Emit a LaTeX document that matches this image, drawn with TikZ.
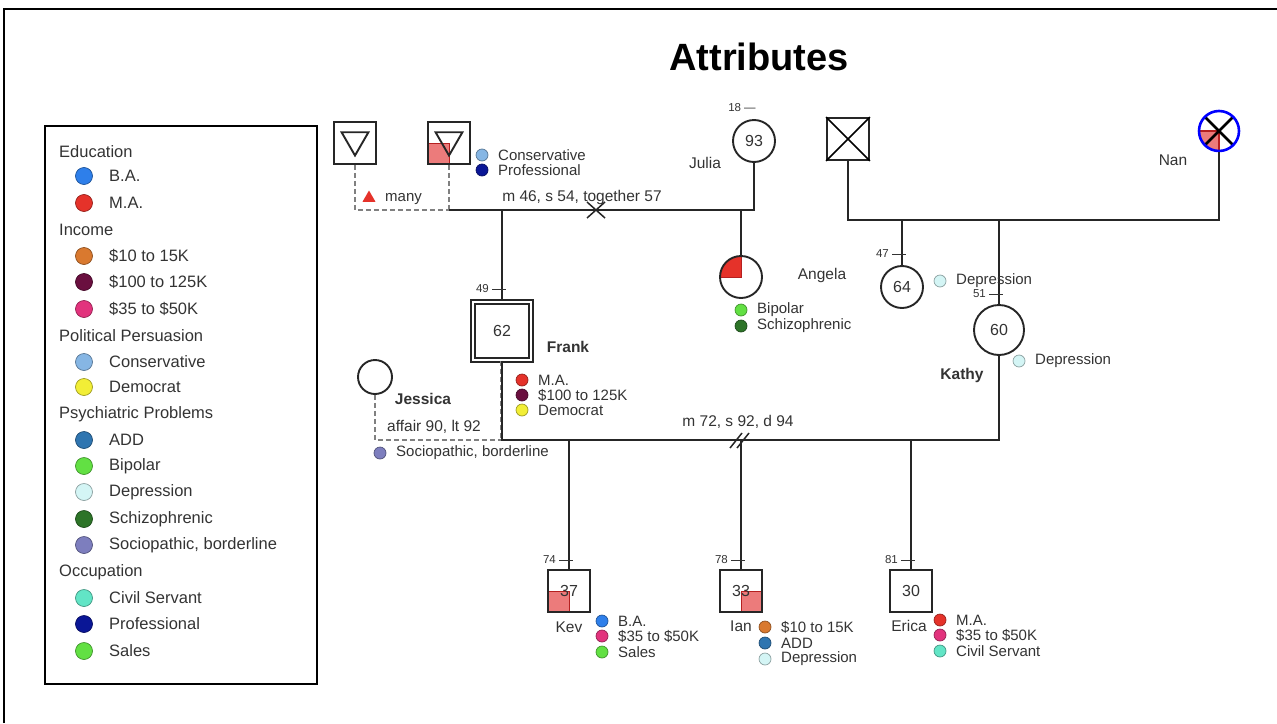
\documentclass[tikz,border=0pt]{standalone}
\usepackage{fontspec}
\setmainfont{Liberation Sans}
\definecolor{InkGray}{HTML}{333333}
\definecolor{EduBA}{HTML}{2E7FEA}
\definecolor{EduMA}{HTML}{E5322A}
\definecolor{IncLow}{HTML}{D9792F}
\definecolor{IncHigh}{HTML}{6A0F3F}
\definecolor{IncMid}{HTML}{E2337D}
\definecolor{PolCons}{HTML}{86B6E4}
\definecolor{PolDem}{HTML}{F2EE36}
\definecolor{PsyADD}{HTML}{2F75B0}
\definecolor{PsyBipolar}{HTML}{62E043}
\definecolor{PsyDepr}{HTML}{D4F5F5}
\definecolor{PsySchizo}{HTML}{2D7428}
\definecolor{PsySocio}{HTML}{7D7EBE}
\definecolor{OccCivil}{HTML}{62E5C6}
\definecolor{OccProf}{HTML}{0A1696}
\definecolor{OccSales}{HTML}{62E043}
\definecolor{QuadPink}{HTML}{EC7B7B}
\definecolor{QuadRed}{HTML}{B52020}
\usepackage{tikz}
\usetikzlibrary{positioning, shapes.geometric, calc}
\usepackage{xcolor}

\begin{document}
\begin{tikzpicture}[x=1pt, y=-1pt,
    rel/.style={draw=black!85, line width=2pt},
    dashrel/.style={draw=black!50, line width=1.8pt, dash pattern=on 5pt off 3pt},
    malebox/.style={draw=black!85, line width=1.9pt, minimum size=42pt, inner sep=0pt,
                    font=\fontsize{16}{16}\selectfont, text=InkGray},
    femcirc/.style={malebox, circle},
    lbl/.style={font=\fontsize{15}{15}\selectfont, text=InkGray, inner sep=0pt, anchor=west},
    namelbl/.style={font=\fontsize{15.5}{15.5}\selectfont, text=InkGray, inner sep=0pt},
    boldname/.style={namelbl, font=\bfseries\fontsize{15.5}{15.5}\selectfont},
    legtxt/.style={font=\fontsize{16.5}{16.5}\selectfont, text=InkGray, inner sep=0pt, anchor=west},
    agelbl/.style={font=\fontsize{11.5}{11.5}\selectfont, text=InkGray, inner sep=0pt, anchor=east},
    agetick/.style={draw=InkGray, line width=0.7pt},
    attr/.style={circle, draw=#1!65!black, fill=#1, line width=0.7pt, minimum size=12pt, inner sep=0pt},
    legdot/.style={attr=#1, minimum size=17pt},
    downtri/.style={regular polygon, regular polygon sides=3, shape border rotate=180,
                    draw=black!85, line width=1.9pt, minimum size=31pt, inner sep=0pt},
  ]
  \useasboundingbox (0,0) rectangle (1277,723);
  \draw[line width=2pt] (4,723) -- (4,9) -- (1277,9);

  \node[font=\bfseries\fontsize{38}{38}\selectfont] (title) at (759,57) {Attributes};

  % legend
  \draw[line width=1.5pt] (45,126) rectangle (317,684);
  \foreach \yy/\head in {152/Education, 230/Income, 336/Political Persuasion,
                         414/Psychiatric Problems, 572/Occupation}
    \node[legtxt] (head\yy) at (59,\yy) {\head};
  \foreach \yy/\col/\lab in {176/EduBA/B.A., 203/EduMA/M.A., 256/IncLow/\$10 to 15K,
      282/IncHigh/\$100 to 125K, 309/IncMid/\$35 to \$50K, 362/PolCons/Conservative,
      387/PolDem/Democrat, 440/PsyADD/ADD, 466/PsyBipolar/Bipolar, 492/PsyDepr/Depression,
      519/PsySchizo/Schizophrenic, 545/PsySocio/{Sociopathic, borderline},
      598/OccCivil/Civil Servant, 624/OccProf/Professional, 651/OccSales/Sales} {
    \node[legdot=\col] (legdot\yy) at (84,\yy) {};
    \node[legtxt] (legtxt\yy) at (109,\yy) {\lab};
  }

  % grandparents
  \node[malebox] (unk1) at (355,143) {};
  \node[downtri] (unk1tri) at (355,140) {};
  \node[malebox, path picture={
      \fill[QuadPink] (path picture bounding box.south west) rectangle (path picture bounding box.center);
      \draw[QuadRed, line width=0.8pt] (path picture bounding box.west) -- (path picture bounding box.center)
        -- (path picture bounding box.south);}] (unk2) at (449,143) {};
  \node[downtri] (unk2tri) at (449,140) {};
  \node[femcirc] (julia) at (754,141) {93};
  \node[namelbl] (juliaage) at (742,108) {\fontsize{11.5}{11.5}\selectfont 18 ---};
  \node[namelbl] (julianame) at (705,163) {Julia};

  \node[malebox] (xsq) at (848,139) {};
  \draw[line width=1.5pt] (xsq.north west) -- (xsq.south east) (xsq.north east) -- (xsq.south west);
  \node[circle, draw=blue, line width=2.6pt, minimum size=40pt, inner sep=0pt, path picture={
      \fill[QuadPink] (path picture bounding box.south west) rectangle (path picture bounding box.center);
      \draw[QuadRed, line width=1.4pt] (path picture bounding box.west) -- (path picture bounding box.center)
        -- (path picture bounding box.south);
      \draw[black, line width=2.6pt] (path picture bounding box.north west) -- (path picture bounding box.south east)
        (path picture bounding box.north east) -- (path picture bounding box.south west);}] (nan) at (1219,131) {};
  \node[namelbl] (nanname) at (1173,160) {Nan};

  % parents
  \node[malebox, double, double distance=2.5pt, line width=1.5pt, minimum size=58pt] (frank) at (502,331) {62};
  \node[boldname] (frankname) at (568,347) {Frank};
  \node[femcirc, path picture={
      \fill[EduMA] (path picture bounding box.north west) rectangle (path picture bounding box.center);
      \draw[QuadRed, line width=0.8pt] (path picture bounding box.west) -- (path picture bounding box.center)
        -- (path picture bounding box.north);}] (angela) at (741,277) {};
  \node[namelbl] (angelaname) at (822,275) {Angela};
  \node[femcirc, minimum size=34pt] (jessica) at (375,377) {};
  \node[boldname] (jessicaname) at (423,399) {Jessica};
  \node[femcirc] (aunt) at (902,287) {64};
  \node[femcirc, minimum size=50pt] (kathy) at (999,330) {60};
  \node[boldname] (kathyname) at (962,375) {Kathy};

  % children
  \node[malebox, path picture={
      \fill[QuadPink] (path picture bounding box.south west) rectangle (path picture bounding box.center);
      \draw[QuadRed, line width=0.8pt] (path picture bounding box.west) -- (path picture bounding box.center)
        -- (path picture bounding box.south);}] (kev) at (569,591) {37};
  \node[malebox, path picture={
      \fill[QuadPink] (path picture bounding box.south east) rectangle (path picture bounding box.center);
      \draw[QuadRed, line width=0.8pt] (path picture bounding box.east) -- (path picture bounding box.center)
        -- (path picture bounding box.south);}] (ian) at (741,591) {33};
  \node[malebox] (erica) at (911,591) {30};
  \node[namelbl] (kevname) at (569,627) {Kev};
  \node[namelbl] (ianname) at (741,626) {Ian};
  \node[namelbl] (ericaname) at (909,626) {Erica};

  % relationships
  \coordinate (m46a) at (449,210);
  \coordinate (m46sep) at (596,210);
  \draw[dashrel] (unk1.south) |- (m46a);
  \draw[dashrel] (unk2.south) -- (m46a);
  \draw[rel] (m46a) -| (julia.south);
  \draw[rel] (502,210) -- (frank.north);
  \draw[rel] (741,210) -- (angela.north);
  \draw[rel, line width=1.5pt] ($(m46sep)+(-9,-8)$) -- ($(m46sep)+(9,8)$)
    ($(m46sep)+(9,-8)$) -- ($(m46sep)+(-9,8)$);
  \node[regular polygon, regular polygon sides=3, fill=EduMA, minimum size=15pt, inner sep=0pt] (manytri) at (369,198) {};
  \node[lbl] (manytxt) at (385,199) {many};
  \node[namelbl] (m46lbl) at (582,197) {m 46, s 54, together 57};

  \coordinate (m51r) at (1219,220);
  \draw[rel] (xsq.south) |- (m51r) -- (nan.south);
  \draw[rel] (902,220) -- (aunt.north);
  \draw[rel] (999,220) -- (kathy.north);

  \coordinate (m72a) at (502,440);
  \coordinate (m72sep) at (741,440);
  \draw[dashrel] (jessica.south) |- (m72a);
  \draw[dashrel] ([xshift=-1.5pt]frank.south) -- ([xshift=-1.5pt]m72a);
  \draw[rel] (frank.south) -- (m72a) -| (kathy.south);
  \foreach \kid/\kx in {kev/569, ian/741, erica/911}
    \draw[rel] (\kx,440) -- (\kid.north);
  \draw[rel, line width=1.5pt] ($(m72sep)+(-11,8)$) -- ($(m72sep)+(1,-7)$)
    ($(m72sep)+(-4,8)$) -- ($(m72sep)+(8,-7)$);
  \node[namelbl] (affairlbl) at (434,427) {affair 90, lt 92};
  \node[namelbl] (m72lbl) at (738,422) {m 72, s 92, d 94};

  % birth years
  \foreach \ax/\ay/\yr in {502/289/49, 902/254/47, 999/294/51, 569/560/74, 741/560/78, 911/560/81} {
    \node[agelbl] (age\yr) at (\ax-13,\ay) {\yr};
    \draw[agetick] (\ax-10,\ay) -- (\ax+4,\ay);
  }

  % attributes
  \foreach \dx/\dy/\col/\lab [count=\i] in {
      482/155/PolCons/Conservative, 482/170/OccProf/Professional,
      741/310/PsyBipolar/Bipolar, 741/326/PsySchizo/Schizophrenic,
      522/380/EduMA/M.A., 522/395/IncHigh/\$100 to 125K, 522/410/PolDem/Democrat,
      380/453/PsySocio/{Sociopathic, borderline},
      940/281/PsyDepr/Depression, 1019/361/PsyDepr/Depression,
      602/621/EduBA/B.A., 602/636/IncMid/\$35 to \$50K, 602/652/OccSales/Sales,
      765/627/IncLow/\$10 to 15K, 765/643/PsyADD/ADD, 765/659/PsyDepr/Depression,
      940/620/EduMA/M.A., 940/635/IncMid/\$35 to \$50K, 940/651/OccCivil/Civil Servant} {
    \node[attr=\col] (att\i) at (\dx,\dy) {};
    \node[lbl] (atttxt\i) at (\dx+16,\dy) {\lab};
  }
\end{tikzpicture}
\end{document}
